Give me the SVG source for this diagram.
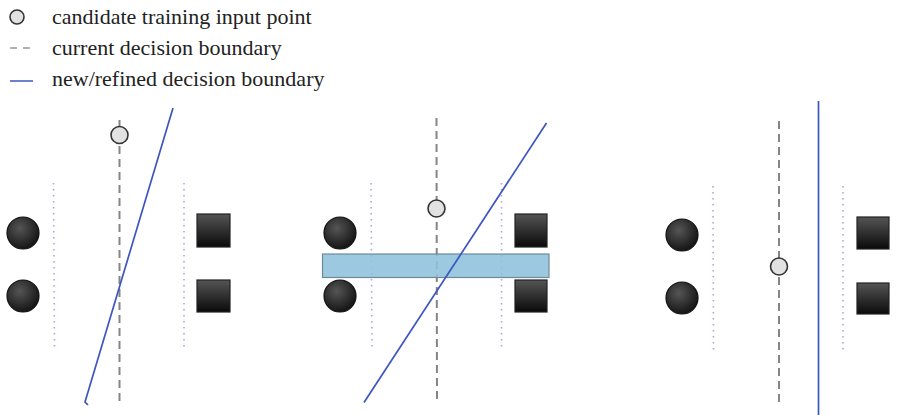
<svg xmlns="http://www.w3.org/2000/svg" width="897" height="415" viewBox="0 0 897 415">
<defs>
<radialGradient id="gc" cx="0.4" cy="0.35" r="0.7">
<stop offset="0" stop-color="#555"/>
<stop offset="1" stop-color="#111"/>
</radialGradient>
<linearGradient id="gs" x1="0" y1="0" x2="0" y2="1">
<stop offset="0" stop-color="#555"/>
<stop offset="1" stop-color="#0a0a0a"/>
</linearGradient>
</defs>
<style>
.lbl{font-family:"Liberation Serif","Times New Roman",serif;font-size:22px;fill:#222}
.cls{fill:url(#gc);stroke:#111;stroke-width:1.2}
.sq{fill:url(#gs);stroke:#222;stroke-width:1.2}
.cand{fill:#e2e2e2;stroke:#333;stroke-width:1.6}
.cur{stroke:#858585;stroke-width:2;stroke-dasharray:8 5;fill:none}
.mar{stroke:#a8a8d8;stroke-width:1.6;stroke-dasharray:1.5 4.5;fill:none}
.new{stroke:#3d55c0;stroke-width:1.7;fill:none}
</style>
<g id="legend">
<circle class="cand" cx="17" cy="17" r="7"/>
<text class="lbl" x="52" y="24">candidate training input point</text>
<line x1="10" y1="48" x2="33" y2="48" stroke="#999" stroke-width="1.5" stroke-dasharray="7 6"/>
<text class="lbl" x="52" y="55">current decision boundary</text>
<line x1="10" y1="81" x2="33" y2="81" stroke="#3d55c0" stroke-width="1.5"/>
<text class="lbl" x="52" y="86">new/refined decision boundary</text>
</g>
<g id="connectors">
<line class="mar" x1="53.5" y1="183" x2="54.5" y2="350"/>
<line class="mar" x1="184" y1="183" x2="184" y2="350"/>
<line class="cur" x1="119.5" y1="120" x2="119.5" y2="404"/>
<path class="new" d="M173,108 L85,402 L88,405"/>
<line class="mar" x1="371" y1="183" x2="372" y2="350"/>
<line class="mar" x1="501.5" y1="183" x2="501.5" y2="350"/>
<line class="cur" x1="436.5" y1="118" x2="437" y2="404"/>
<line class="mar" x1="713" y1="186" x2="713.5" y2="352"/>
<line class="mar" x1="843" y1="186" x2="843" y2="352"/>
<line class="cur" x1="779" y1="121" x2="779" y2="406"/>
<line class="new" x1="818.5" y1="101" x2="818.5" y2="415" stroke-width="2"/>
</g>
<g id="panel1">
<circle class="cls" cx="23" cy="233" r="16"/>
<circle class="cls" cx="23" cy="296" r="16"/>
<rect class="sq" x="197" y="214" width="33" height="33"/>
<rect class="sq" x="197" y="280" width="33" height="32"/>
<circle class="cand" cx="119.5" cy="135" r="8.5"/>
</g>
<g id="panel2">
<circle class="cls" cx="340" cy="233" r="16"/>
<circle class="cls" cx="340" cy="296" r="16"/>
<rect class="sq" x="515" y="214" width="32" height="33"/>
<rect class="sq" x="515" y="280" width="32" height="32"/>
<circle class="cand" cx="436.5" cy="208.5" r="8.5"/>
<rect id="region" x="322.5" y="254" width="226.5" height="23.5" fill="#8ec0dc" fill-opacity="0.88" stroke="#6d8a99" stroke-width="1.2"/>
<line class="new" x1="546.5" y1="123" x2="364" y2="402.5"/>
</g>
<g id="panel3">
<circle class="cls" cx="682" cy="235" r="16"/>
<circle class="cls" cx="682" cy="298" r="16"/>
<rect class="sq" x="857" y="217" width="32" height="32"/>
<rect class="sq" x="857" y="283" width="32" height="31"/>
<circle class="cand" cx="779" cy="266.5" r="8.5"/>
</g>
</svg>
